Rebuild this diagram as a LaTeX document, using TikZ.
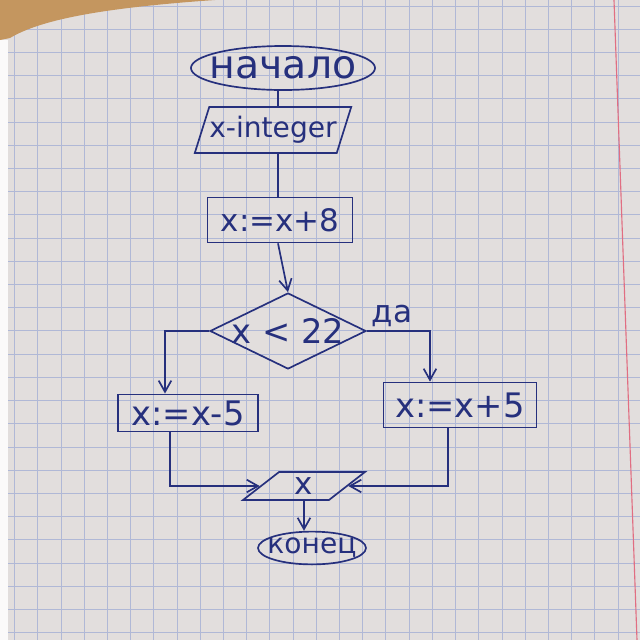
\documentclass[tikz,border=0pt]{standalone}
\usepackage{fontspec}
\setmainfont{DejaVu Sans}
\usetikzlibrary{shapes.geometric,arrows.meta,calc}
\definecolor{ink}{RGB}{38,48,125}
\definecolor{paper}{RGB}{226,222,221}
\definecolor{gridc}{RGB}{176,184,214}
\definecolor{wood}{RGB}{196,150,95}
\definecolor{margin}{RGB}{225,110,130}
\tikzset{
  every node/.style={text=ink, font=\fontsize{22}{26}\selectfont},
  conn/.style={draw=ink, line width=1.2pt},
  arr/.style={conn, -{Straight Barb[length=8pt,width=9pt]}},
  term/.style={ellipse, draw=ink, line width=1.2pt, inner sep=0pt},
  proc/.style={rectangle, draw=ink, line width=1.2pt, inner sep=0pt},
  io/.style={trapezium, draw=ink, line width=1.2pt, inner sep=0pt, trapezium stretches=true},
  cond/.style={diamond, draw=ink, line width=1.2pt, inner sep=0pt}
}
\begin{document}
\begin{tikzpicture}[x=0.025cm, y=-0.025cm]
% paper background
\fill[paper] (0,0) rectangle (640,640);
\useasboundingbox (0,0) rectangle (640,640);
\begin{scope}
\clip (0,0) rectangle (640,640);
\draw[gridc, line width=0.6pt, xshift=0.365cm, yshift=-0.15cm, step=0.58cm] (-40,-40) grid (680,680);
\end{scope}
\fill[wood] (0,0) -- (215,0) .. controls (100,8) and (40,20) .. (10,38) -- (0,40) -- cycle;
\fill[white!85!paper] (0,40) -- (8,40) -- (8,640) -- (0,640) -- cycle;
\draw[margin, line width=0.8pt] (614,0) -- (637,640);

% nodes
\coordinate (spine) at (278,0);
\node[term, minimum width=4.6cm, minimum height=1.1cm, font=\fontsize{28}{32}\selectfont] (start) at (283,68) {\makebox[0pt]{начало}};
\node[io, trapezium left angle=62, trapezium right angle=118, minimum width=3.55cm, minimum height=1.15cm, font=\fontsize{20}{24}\selectfont] (inp) at (273,130) {x-integer};
\node[proc, minimum width=3.625cm, minimum height=1.125cm] (s1) at (280,220) {x:=x+8};
\node[cond, minimum width=3.9cm, minimum height=1.9cm, font=\fontsize{24}{28}\selectfont] (dec) at (288,331) {\makebox[0pt]{x < 22}};
\node[proc, minimum width=3.5cm, minimum height=0.93cm, font=\fontsize{24}{28}\selectfont] (left) at (188,413) {\makebox[0pt]{x:=x-5}};
\node[proc, minimum width=3.825cm, minimum height=1.125cm, font=\fontsize{24}{28}\selectfont] (right) at (460,405) {\makebox[0pt]{x:=x+5}};
\node[io, trapezium left angle=52, trapezium right angle=128, minimum width=3.05cm, minimum height=0.7cm] (out) at (304,486) {x};
\node[term, minimum width=2.7cm, minimum height=0.82cm, font=\fontsize{20}{24}\selectfont] (end) at (312,548) {\makebox[0pt]{конец}};
\node (yes) at (392,316) {да};

% connectors
\draw[conn] (start.south -| spine) -- (inp.north -| spine);
\draw[conn] (inp.south -| spine) -- (s1.north -| spine);
\draw[arr] (s1.south -| spine) -- (dec.north);
\draw[arr] (dec.west) -| ([xshift=-0.575cm]left.north);
\draw[arr] (dec.east) -| ([xshift=-0.75cm]right.north);
\draw[arr] ([xshift=-0.45cm]left.south) |- (out.west);
\draw[arr] ([xshift=-0.3cm]right.south) |- (out.east);
\draw[arr] (out.south) -- (out.south |- end.north);
\end{tikzpicture}
\end{document}
